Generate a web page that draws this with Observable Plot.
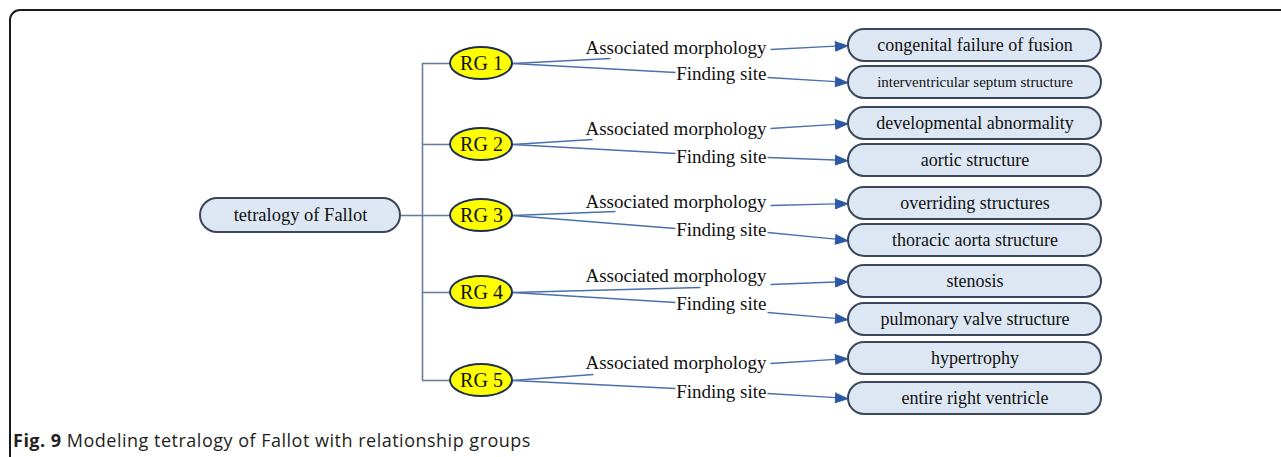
<!DOCTYPE html>
<html><head><meta charset="utf-8">
<script src="https://cdn.jsdelivr.net/npm/d3@7"></script>
<script src="https://cdn.jsdelivr.net/npm/@observablehq/plot@0.6"></script>
<style>
html,body{margin:0;padding:0;width:1281px;height:457px;overflow:hidden;background:#fff;}
#frame{position:absolute;left:9px;top:9px;width:1400px;height:600px;border:2px solid #1a1a1a;border-radius:11px;box-sizing:border-box;}
#chart{position:absolute;left:0;top:0;}
#caption{position:absolute;left:13px;top:428px;font-family:"Open Sans",sans-serif;font-size:18px;letter-spacing:0.5px;color:#231f20;white-space:nowrap;}
#caption b{font-weight:700;}
</style></head>
<body>
<div id="frame"></div>
<div id="chart"></div>
<div id="caption"><b>Fig. 9</b> Modeling tetralogy of Fallot with relationship groups</div>
<script>
// ---- content ----
const rootLabel = "tetralogy of Fallot";
const groups = ["RG 1", "RG 2", "RG 3", "RG 4", "RG 5"];
const relations = ["Associated morphology", "Finding site"];
const morphology = ["congenital failure of fusion", "developmental abnormality", "overriding structures", "stenosis", "hypertrophy"];
const findingSite = ["interventricular septum structure", "aortic structure", "thoracic aorta structure", "pulmonary valve structure", "entire right ventricle"];

// ---- layout (diagram units = pixels) ----
const groupY = [63, 144, 215, 292, 380];
const morphY = [45, 123, 203, 281, 358];
const siteY = [82, 160, 240, 319, 398];
const morphLabelY = [47, 128, 201, 275, 362];
const siteLabelY = [73, 156, 229, 303, 391];
const morphBendX = [610, 592, 615, 700, 593];
const morphBendY = [58, 139, 211, 287, 374];
const morphOutY = [49, 128, 205, 284, 363];
const siteBendY = [72, 153, 228, 302, 388];
const siteOutY = [77, 157, 232, 312, 393];

const rootBox = {x1: 200, x2: 400, y: 215};
const trunkX = 422, groupX = 481, groupRx = 31, groupRy = 16;
const labelRight = 766, siteBendX = 675, outX = 770;
const targetX1 = 848, targetX2 = 1101, boxH = 32;

const W = 1281, H = 425;
const serif = "Liberation Serif";
const edgeColor = "#4a70ad";

// segments
const segs = [];
const heads = [];
function arrow(id, x0, y0, x1, y1) {
  const dx = x1 - x0, dy = y1 - y0, L = Math.hypot(dx, dy);
  const ux = dx / L, uy = dy / L, nx = -uy, ny = ux;
  const bx = x1 - 13 * ux, by = y1 - 13 * uy;
  segs.push({x1: x0, y1: y0, x2: bx, y2: by});
  heads.push({id, x: x1, y: y1}, {id, x: bx + 5 * nx, y: by + 5 * ny}, {id, x: bx - 5 * nx, y: by - 5 * ny});
}
groups.forEach((g, i) => {
  const sx = groupX + groupRx;
  segs.push({x1: sx, y1: groupY[i], x2: morphBendX[i], y2: morphBendY[i]});
  segs.push({x1: sx, y1: groupY[i], x2: siteBendX, y2: siteBendY[i]});
  arrow("m" + i, outX, morphOutY[i], targetX1, morphY[i]);
  arrow("s" + i, outX - 3, siteOutY[i], targetX1, siteY[i]);
});

const targets = [
  ...morphology.map((t, i) => ({label: t, y: morphY[i], size: 18})),
  ...findingSite.map((t, i) => ({label: t, y: siteY[i], size: i === 0 ? 15 : 18}))
];
const edgeLabels = [
  ...groups.map((g, i) => ({label: relations[0], y: morphLabelY[i]})),
  ...groups.map((g, i) => ({label: relations[1], y: siteLabelY[i]}))
];

const chart = Plot.plot({
  width: W, height: H, margin: 0,
  x: {domain: [0, W], range: [0, W], axis: null},
  y: {domain: [0, H], range: [0, H], axis: null},
  style: {background: "transparent", overflow: "visible"},
  marks: [
    Plot.ruleX([trunkX], {y1: groupY[0], y2: groupY[groupY.length - 1], stroke: "#6b7c9c", strokeWidth: 1.6}),
    Plot.ruleY(groupY, {x1: trunkX, x2: groupX - groupRx, stroke: "#6b7c9c", strokeWidth: 1.6}),
    Plot.ruleY([rootBox.y], {x1: rootBox.x2, x2: trunkX, stroke: "#6b7c9c", strokeWidth: 1.6}),
    Plot.link(segs, {x1: "x1", y1: "y1", x2: "x2", y2: "y2", stroke: edgeColor, strokeWidth: 1.3}),
    Plot.line(heads, {x: "x", y: "y", z: "id", fill: "#2d58a5", stroke: "#2d58a5", strokeWidth: 1}),
    Plot.rect(targets, {x1: targetX1, x2: targetX2, y1: d => d.y - boxH / 2, y2: d => d.y + boxH / 2, rx: 16, fill: "#dde7f3", stroke: "#3a475b", strokeWidth: 2}),
    Plot.rect([rootBox], {x1: "x1", x2: "x2", y1: d => d.y - 17, y2: d => d.y + 17, rx: 17, fill: "#dde7f3", stroke: "#3a475b", strokeWidth: 2}),
    Plot.rect(groupY, {x1: groupX - groupRx, x2: groupX + groupRx, y1: d => d - groupRy, y2: d => d + groupRy, rx: groupRx, ry: groupRy, fill: "#ffff00", stroke: "#1d2f55", strokeWidth: 2}),
    Plot.text(groups, {x: groupX, y: (d, i) => groupY[i], text: d => d, fontFamily: serif, fontSize: 20, fill: "#111"}),
    Plot.text([rootLabel], {x: (rootBox.x1 + rootBox.x2) / 2, y: rootBox.y, text: d => d, fontFamily: serif, fontSize: 18.5, fill: "#111"}),
    Plot.text(targets, {x: (targetX1 + targetX2) / 2, y: "y", text: "label", fontFamily: serif, fontSize: d => d.size, fill: "#111"}),
    Plot.text(edgeLabels, {x: labelRight, y: "y", text: "label", textAnchor: "end", fontFamily: serif, fontSize: 19, fill: "#111"})
  ]
});
document.getElementById("chart").appendChild(chart);
</script>
</body></html>
